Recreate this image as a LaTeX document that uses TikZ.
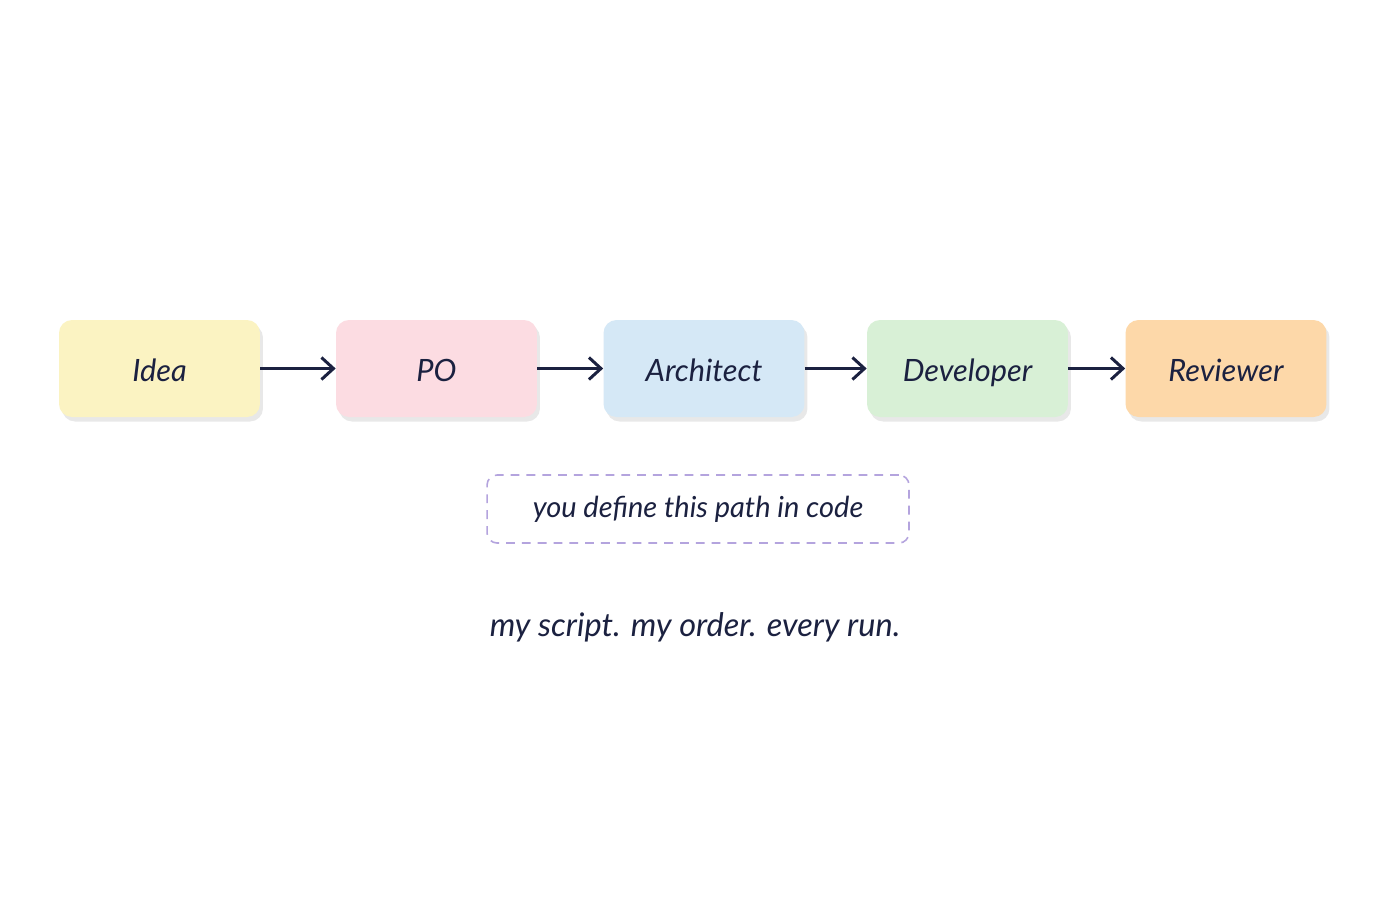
\documentclass[tikz,border=0pt]{standalone}
\usepackage{fontspec}
\setmainfont{Lato}
\usetikzlibrary{arrows.meta, shapes, shadows}
\definecolor{ink}{HTML}{1B2140}
\definecolor{ideafill}{HTML}{FBF3C2}
\definecolor{pofill}{HTML}{FCDCE2}
\definecolor{archfill}{HTML}{D5E8F6}
\definecolor{devfill}{HTML}{D8F0D6}
\definecolor{revfill}{HTML}{FDD8A9}
\definecolor{lavender}{HTML}{B4A4DE}
\tikzset{
    stage/.style = {
        rectangle, rounded corners=0.26cm,
        minimum width=4.02cm, minimum height=1.94cm,
        text height=0.55cm, text depth=0.02cm,
        text=ink, font=\itshape\fontsize{17.5}{21}\selectfont,
        drop shadow={opacity=0.18, shadow xshift=0.06cm, shadow yshift=-0.09cm}
    },
    flow/.style = {
        draw=ink, line width=1.7pt,
        -{Straight Barb[length=0.24cm, width=0.44cm, line width=1.7pt]}
    },
    note/.style = {
        draw=lavender, dashed, dash pattern=on 5pt off 4pt, line width=0.9pt,
        rounded corners=0.2cm, minimum width=8.44cm, minimum height=1.36cm,
        text=ink, font=\itshape\fontsize{16.5}{20}\selectfont
    }
}
\begin{document}
\begin{tikzpicture}[x=0.02cm, y=-0.02cm]
    \useasboundingbox[fill=white] (0, 0) rectangle (1382, 921);

    \node[stage, fill=ideafill] (idea) at (159.5, 368.5) {Idea};
    \node[stage, fill=pofill] (po) at (436.5, 368.5) {PO};
    \node[stage, fill=archfill] (arch) at (704, 368.5) {Architect};
    \node[stage, fill=devfill] (dev) at (967.5, 368.5) {Developer};
    \node[stage, fill=revfill] (rev) at (1226, 368.5) {Reviewer};

    \draw[flow] (idea) -- (po);
    \draw[flow] (po) -- (arch);
    \draw[flow] (arch) -- (dev);
    \draw[flow] (dev) -- (rev);

    \node[note] (path) at (698, 509) {you define this path in code};
    \node[text=ink, font=\itshape\fontsize{18.5}{22}\selectfont] (motto) at (695, 627)
        {my script. my order. every run.};
\end{tikzpicture}
\end{document}
